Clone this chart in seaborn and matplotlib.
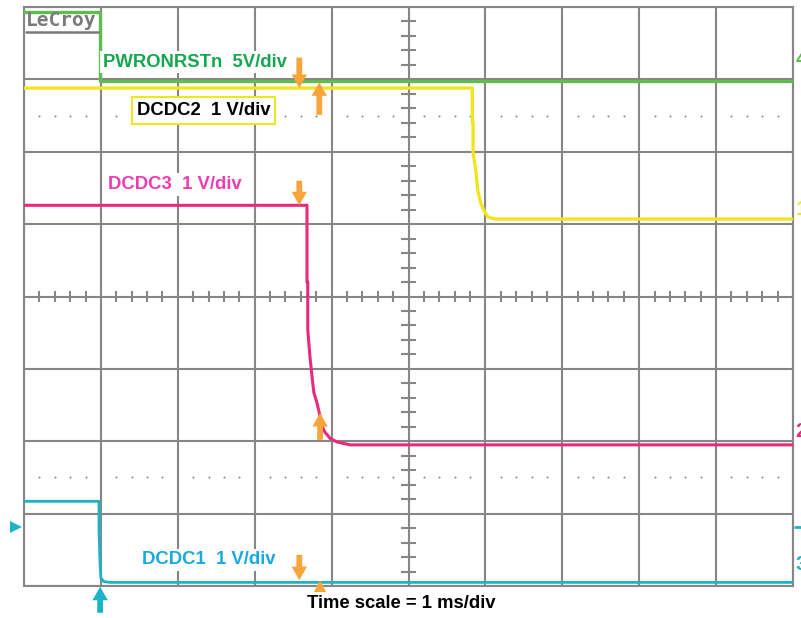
import numpy as np
import matplotlib
matplotlib.use("Agg")
import matplotlib.pyplot as plt
import seaborn as sns

# === Estilo
sns.set_theme(style="white")
plt.rcParams['font.family'] = ['Liberation Sans', 'DejaVu Sans']

# === Traces: time in divisions (1 ms/div), level in divisions above bottom of screen
pwr_t = [0.0, 0.99, 0.99, 10.0]
pwr_v = [7.93, 7.93, 6.98, 6.98]

dcdc2_t = [0.0, 5.83, 5.83, 5.84, 5.84, 5.88, 5.90, 5.94, 5.99, 6.03, 6.12, 10.0]
dcdc2_v = [6.88, 6.88, 6.41, 6.41, 5.99, 5.70, 5.47, 5.29, 5.17, 5.10, 5.07, 5.07]

dcdc3_t = [0.0, 3.68, 3.68, 3.69, 3.69, 3.72, 3.75, 3.77, 3.81, 3.84, 3.88,
           3.91, 3.98, 4.07, 4.24, 10.0]
dcdc3_v = [5.26, 5.26, 4.20, 4.20, 3.54, 3.15, 2.85, 2.67, 2.53, 2.39, 2.20,
           2.13, 2.04, 1.99, 1.95, 1.95]

dcdc1_t = [0.0, 0.975, 0.975, 0.99, 1.00, 1.04, 1.12, 10.0]
dcdc1_v = [1.17, 1.17, 0.76, 0.28, 0.11, 0.06, 0.05, 0.05]

# === Cursor arrows (x, tail level, head level)
arrow_x = [3.58, 3.84, 3.58, 3.85, 3.58]
arrow_tail = [7.30, 6.51, 5.60, 2.02, 0.43]
arrow_head = [6.88, 6.96, 5.26, 2.39, 0.08]

labels = ["PWRONRSTn  5V/div", "DCDC2  1 V/div", "DCDC3  1 V/div", "DCDC1  1 V/div"]

C_GRID = "#868686"
C_GREEN = "#5fbd50"
C_YELLOW = "#f1e421"
C_PINK = "#e8297c"
C_CYAN = "#1cb3c9"
C_ORANGE = "#f7a43b"
FS = 13.3

fig = plt.figure(figsize=(8.01, 6.18), dpi=100)
ax = fig.add_axes([24 / 801, 32 / 618, 769 / 801, 579 / 618])
ax.set_xlim(0, 10)
ax.set_ylim(0, 8)

# === Graticule
ax.set_xticks(np.arange(11))
ax.set_yticks(np.arange(9))
ax.grid(True, color=C_GRID, lw=1.5)
ax.set_axisbelow(True)
ax.tick_params(length=0, labelbottom=False, labelleft=False)
for s in ax.spines.values():
    s.set_color(C_GRID)
    s.set_linewidth(1.5)

sub_x = np.array([x for x in np.arange(0.2, 10, 0.2) if abs(x - round(x)) > 1e-6])
sub_y = np.array([y for y in np.arange(0.2, 8, 0.2) if abs(y - round(y)) > 1e-6])
ax.vlines(sub_x, 4 - 0.075, 4 + 0.075, color=C_GRID, lw=1.5, zorder=1)
ax.hlines(sub_y, 5 - 0.1, 5 + 0.1, color=C_GRID, lw=1.5, zorder=1)
for yd in (6.5, 1.5):
    ax.scatter(sub_x, np.full_like(sub_x, yd), s=2, color=C_GRID, linewidths=0, zorder=1)

# === Traces
sns.lineplot(x=pwr_t, y=pwr_v, sort=False, estimator=None, color=C_GREEN, lw=2.4, ax=ax, zorder=3)
sns.lineplot(x=dcdc2_t, y=dcdc2_v, sort=False, estimator=None, color=C_YELLOW, lw=2.4, ax=ax, zorder=4)
sns.lineplot(x=dcdc3_t, y=dcdc3_v, sort=False, estimator=None, color=C_PINK, lw=2.2, ax=ax, zorder=4)
sns.lineplot(x=dcdc1_t, y=dcdc1_v, sort=False, estimator=None, color=C_CYAN, lw=2.0, ax=ax, zorder=4)
ax.set_xlabel("")
ax.set_ylabel("")

# === Arrows
astyle = "simple,head_length=0.75,head_width=0.85,tail_width=0.32"
for x, t, h in zip(arrow_x, arrow_tail, arrow_head):
    ax.annotate("", xy=(x, h), xytext=(x, t), annotation_clip=False, zorder=6,
                arrowprops=dict(arrowstyle=astyle, color=C_ORANGE, mutation_scale=13,
                                shrinkA=0, shrinkB=0, lw=0))
ax.plot([3.85], [0.0], marker="^", ms=8, color=C_ORANGE, clip_on=False, zorder=6, mew=0)
ax.annotate("", xy=(0.99, -0.01), xytext=(0.99, -0.37), annotation_clip=False, zorder=6,
            arrowprops=dict(arrowstyle=astyle, color=C_CYAN, mutation_scale=13,
                            shrinkA=0, shrinkB=0, lw=0))
ax.plot([-0.10], [0.81], marker=">", ms=9, color=C_CYAN, clip_on=False, mew=0)
ax.plot([10.06], [0.81], marker="_", ms=6, mew=2, color=C_CYAN, clip_on=False)

# === Channel labels
box = dict(facecolor="white", edgecolor="none", pad=2)
ax.text(1.03, 7.24, labels[0], color="#14a84e", fontsize=FS, fontweight="bold",
        va="center", ha="left", bbox=box, zorder=5)
ax.text(2.34, 6.57, labels[1], color="black", fontsize=FS, fontweight="bold",
        va="center", ha="center", zorder=5,
        bbox=dict(facecolor="white", edgecolor=C_YELLOW, lw=1.5, pad=3.5))
ax.text(1.09, 5.55, labels[2], color="#f03cb0", fontsize=FS, fontweight="bold",
        va="center", ha="left", bbox=box, zorder=5)
ax.text(1.53, 0.36, labels[3], color="#18a9e2", fontsize=FS, fontweight="bold",
        va="center", ha="left", bbox=box, zorder=5)
fig.text(401 / 801, 1 - 604 / 618, "Time scale = 1 ms/div", color="black", fontsize=FS,
         fontweight="bold", ha="center", va="center")

# === Right-edge channel markers
for yv, txt, c in [(7.27, "4", C_GREEN), (5.20, "1", C_YELLOW), (2.13, "2", C_PINK), (0.30, "3", C_CYAN)]:
    ax.text(10.03, yv, txt, color=c, fontsize=15, fontweight="bold", va="center", ha="left", clip_on=False)

# === Logo
ax.text(0.03, 7.82, "LeCroy", color="#7a7a7a", fontsize=14, fontweight="bold",
        family="DejaVu Sans Mono", va="center", ha="left", zorder=5)
ax.plot([0.03, 0.96], [7.65, 7.65], color="#7a7a7a", lw=1.8, zorder=5)

fig.savefig("out.png", dpi=100)
